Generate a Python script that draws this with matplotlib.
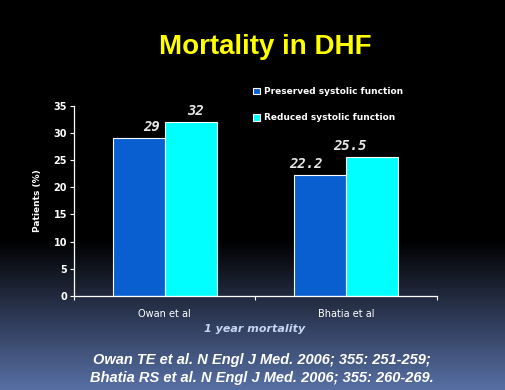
import numpy as np
import matplotlib
matplotlib.use("Agg")
import matplotlib.pyplot as plt

categories = ["Owan et al", "Bhatia et al"]
preserved = [29, 22.2]
reduced = [32, 25.5]
preserved_labels = ["29", "22.2"]
reduced_labels = ["32", "25.5"]
series_names = ["Preserved systolic function", "Reduced systolic function"]
yticks = [0, 5, 10, 15, 20, 25, 30, 35]

blue = "#0a5fd0"
cyan = "#00ffff"

fig = plt.figure(figsize=(5.06, 3.9), dpi=100)

# background gradient: black on top, blue-grey at bottom
bg = fig.add_axes([0, 0, 1, 1], zorder=-10)
rows = np.arange(390)
t = np.clip((rows - 240) / (390 - 240), 0, 1)
bottom_col = np.array([88, 112, 165]) / 255.0
grad = t[:, None, None] * bottom_col[None, None, :]
grad = np.repeat(grad, 2, axis=1)
bg.imshow(grad, aspect="auto", extent=[0, 1, 0, 1], origin="upper")
bg.axis("off")

ax = fig.add_axes([0.1462, 0.241, 0.7174, 0.488])
ax.patch.set_alpha(0)

x = np.arange(len(categories))
w = 0.287
ax.bar(x - w / 2, preserved, w, color=blue, edgecolor="white", linewidth=0.8, label=series_names[0])
ax.bar(x + w / 2, reduced, w, color=cyan, edgecolor="white", linewidth=0.8, label=series_names[1])

# value labels, nudged like in the slide (points)
lab_font = dict(family="DejaVu Sans Mono", weight="bold", style="italic", size=10, color="#e8e8e8")
offs1 = [9.5, -10]
offs2 = [3.5, -16]
for i in range(len(categories)):
    ax.annotate(preserved_labels[i], (x[i] - w / 2, preserved[i]), xytext=(offs1[i], 3),
                textcoords="offset points", ha="center", va="bottom", **lab_font)
    ax.annotate(reduced_labels[i], (x[i] + w / 2, reduced[i]), xytext=(offs2[i], 3),
                textcoords="offset points", ha="center", va="bottom", **lab_font)

ax.set_xlim(-0.5, 1.5)
ax.set_ylim(0, 35)
ax.set_yticks(yticks)
ax.set_yticklabels([str(v) for v in yticks], fontsize=7, fontweight="bold", color="white")
ax.set_xticks(x)
ax.set_xticklabels(categories, fontsize=7, color="white")
ax.tick_params(axis="x", length=0, pad=9)
ax.set_xticks([-0.5, 0.5, 1.5], minor=True)
ax.tick_params(axis="x", which="minor", length=3, color="white", width=0.8)
ax.tick_params(axis="y", length=3, color="white", width=0.8, pad=2)
for s in ["top", "right"]:
    ax.spines[s].set_visible(False)
for s in ["left", "bottom"]:
    ax.spines[s].set_color("white")
    ax.spines[s].set_linewidth(0.9)
ax.set_ylabel("Patients (%)", fontsize=6.5, fontweight="bold", color="white", labelpad=8)

leg = ax.legend(loc="upper left", bbox_to_anchor=(0.47, 1.14), frameon=False,
                handlelength=0.8, handleheight=0.8, handletextpad=0.4,
                labelspacing=1.9, prop=dict(size=6.5, weight="bold"))
for txt in leg.get_texts():
    txt.set_color("white")

fig.text(0.503, (390 - 329) / 390, "1 year mortality", ha="center", va="center",
         fontsize=8, fontweight="bold", style="italic", color="#c4d6f2")

fig.text(0.525, 0.88, "Mortality in DHF", ha="center", va="center",
         fontsize=20, fontweight="bold", color="#ffff00", family="Liberation Sans")

fig.text(0.518, (390 - 369) / 390,
         "Owan TE et al. N Engl J Med. 2006; 355: 251-259;\nBhatia RS et al. N Engl J Med. 2006; 355: 260-269.",
         ha="center", va="center", fontsize=10.5, fontweight="bold", style="italic",
         color="white", family=["Liberation Sans Narrow", "Liberation Sans"], linespacing=1.3)

fig.savefig("out.png", dpi=100)
